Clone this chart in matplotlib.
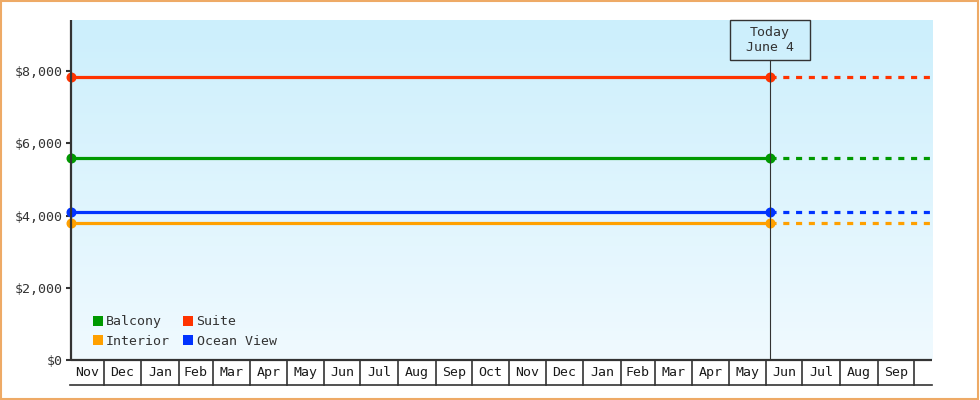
import numpy as np
import pandas as pd
import matplotlib
matplotlib.use("Agg")
import matplotlib.pyplot as plt
import matplotlib.dates as mdates
from matplotlib.patches import Rectangle
from matplotlib.lines import Line2D

# ---- data ----
series_names = ["Balcony", "Interior", "Suite", "Ocean View"]
series_values = [5590, 3790, 7850, 4100]
series_colors = ["#009900", "#ffa000", "#ff3300", "#0033ff"]

start_date = pd.Timestamp("2021-11-04")
today_date = pd.Timestamp("2023-06-04")
end_date = pd.Timestamp("2023-10-16")
today_label = "Today\nJune 4"

month_labels = ["Nov", "Dec", "Jan", "Feb", "Mar", "Apr", "May", "Jun", "Jul",
                "Aug", "Sep", "Oct", "Nov", "Dec", "Jan", "Feb", "Mar", "Apr",
                "May", "Jun", "Jul", "Aug", "Sep", ""]

y_ticks = [0, 2000, 4000, 6000, 8000]
y_tick_labels = ["$0", "$2,000", "$4,000", "$6,000", "$8,000"]
y_max = 9420

# ---- style ----
FONT = "DejaVu Sans Mono"
FS = 9.5
DARK = "#333333"
plt.rcParams["font.family"] = [FONT, "DejaVu Sans"]

fig = plt.figure(figsize=(9.8, 4.0), dpi=100)
ax = fig.add_axes([71 / 980, 40 / 400, 861 / 980, 340 / 400])

# gradient background
grad = np.linspace(0, 1, 256).reshape(-1, 1)
top = np.array([0xcc, 0xef, 0xfc]) / 255
bot = np.array([0xf0, 0xfa, 0xff]) / 255
img = top[None, None, :] * (1 - grad[:, :, None]) + bot[None, None, :] * grad[:, :, None]
ax.imshow(img, extent=[0, 1, 0, 1], transform=ax.transAxes, aspect="auto", zorder=0)

s_num = mdates.date2num(start_date)
t_num = mdates.date2num(today_date)
e_num = mdates.date2num(end_date)

for name, val, col in zip(series_names, series_values, series_colors):
    ax.plot([s_num, t_num], [val, val], color=col, lw=2.3, solid_capstyle="butt", zorder=3)
    ax.plot([t_num, e_num], [val, val], color=col, lw=2.3, dashes=(1.9, 2.1), zorder=3)
    ax.plot([s_num, t_num], [val, val], ls="none", marker="o", ms=6.2, color=col,
            zorder=4, clip_on=False)

# today line and box
xt = ax.get_xaxis_transform()
box_h = 40 / 340
px_per_day = 861 / (e_num - s_num)
box_w_days = 80 / px_per_day
ax.plot([t_num, t_num], [0, 1 - box_h], color=DARK, lw=0.8, transform=xt, zorder=5)
ax.add_patch(Rectangle((t_num - box_w_days / 2, 1 - box_h), box_w_days, box_h,
                       transform=xt, facecolor="none", edgecolor=DARK, lw=1.0,
                       zorder=6, clip_on=False))
ax.text(t_num, 1 - box_h / 2, today_label, transform=xt, ha="center", va="center",
        fontsize=FS, color=DARK, linespacing=1.25, zorder=7)

# month boxes below axis
month_starts = pd.date_range(start_date.replace(day=1), end_date, freq="MS")
box_bottom = -25 / 340
ax.plot([s_num - 1 / px_per_day, e_num], [box_bottom, box_bottom], color=DARK, lw=1.2,
        transform=xt, clip_on=False)
for i, ms in enumerate(month_starts):
    m0 = max(mdates.date2num(ms), s_num)
    nxt = ms + pd.offsets.MonthBegin(1)
    m1 = min(mdates.date2num(nxt), e_num)
    if mdates.date2num(ms) > s_num:
        ax.plot([m0, m0], [0, box_bottom], color=DARK, lw=1.2, transform=xt, clip_on=False)
    lab = month_labels[i] if i < len(month_labels) else ""
    if lab:
        ax.text((m0 + m1) / 2, box_bottom / 2, lab, transform=xt, ha="center",
                va="center", fontsize=FS, color="#1a1a1a", clip_on=False)

# axes styling
ax.set_xlim(s_num, e_num)
ax.set_ylim(0, y_max)
ax.set_xticks([])
ax.set_yticks(y_ticks)
ax.set_yticklabels(y_tick_labels)
ax.tick_params(axis="y", direction="out", length=3.6, width=1.5, color=DARK,
               labelsize=FS, labelcolor=DARK, pad=2)
for side in ["top", "right"]:
    ax.spines[side].set_visible(False)
for side in ["left", "bottom"]:
    ax.spines[side].set_color(DARK)
    ax.spines[side].set_linewidth(1.6)
    ax.spines[side].set_capstyle("butt")
    ax.spines[side].set_zorder(5)

# legend
handles = [Line2D([], [], ls="none", marker="s", ms=7.2, color=c, markeredgewidth=0)
           for c in series_colors]
ax.legend(handles, series_names, ncol=2, loc="lower left",
          bbox_to_anchor=(22 / 861, 12 / 340), frameon=False, borderpad=0,
          borderaxespad=0, handlelength=0.75, handletextpad=0.25,
          columnspacing=1.0, labelspacing=0.5, prop={"family": FONT, "size": FS},
          labelcolor=DARK)

# figure border
fig.patches.append(Rectangle((0.001, 0.002), 0.997, 0.996, transform=fig.transFigure,
                             fill=False, edgecolor="#eeaa66", lw=1.5))

fig.savefig("out.png", dpi=100)
